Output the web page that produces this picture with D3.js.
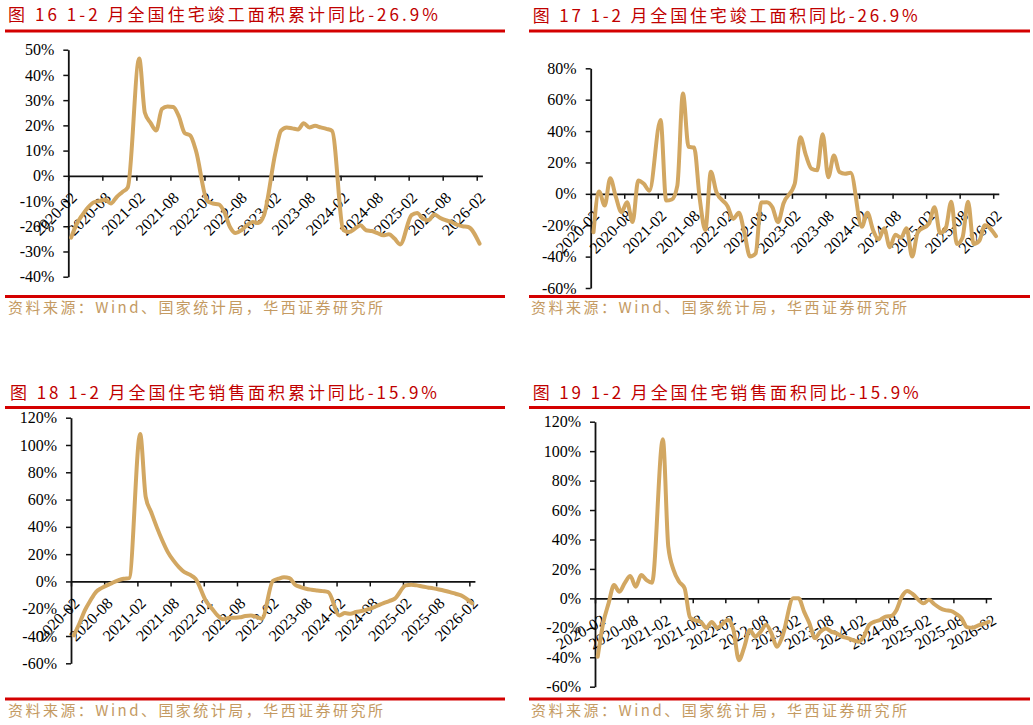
<!DOCTYPE html>
<html><head><meta charset="utf-8">
<script src="https://cdn.jsdelivr.net/npm/d3@7/dist/d3.min.js"></script>
<style>
html,body{margin:0;padding:0;background:#fff;}
svg{display:block;}
</style></head>
<body>
<svg id="c" width="1033" height="725"></svg>
<script>
const months = [
 "2020-02","2020-03","2020-04","2020-05","2020-06","2020-07","2020-08","2020-09","2020-10","2020-11","2020-12",
 "2021-02","2021-03","2021-04","2021-05","2021-06","2021-07","2021-08","2021-09","2021-10","2021-11","2021-12",
 "2022-02","2022-03","2022-04","2022-05","2022-06","2022-07","2022-08","2022-09","2022-10","2022-11","2022-12",
 "2023-02","2023-03","2023-04","2023-05","2023-06","2023-07","2023-08","2023-09","2023-10","2023-11","2023-12",
 "2024-02","2024-03","2024-04","2024-05","2024-06","2024-07","2024-08","2024-09","2024-10","2024-11","2024-12",
 "2025-02","2025-03","2025-04","2025-05","2025-06","2025-07","2025-08","2025-09","2025-10","2025-11","2025-12",
 "2026-02"];
const tickLabels = ["2020-02","2020-08","2021-02","2021-08","2022-02","2022-08","2023-02","2023-08","2024-02","2024-08","2025-02","2025-08","2026-02"];
// 图16 住宅竣工面积累计同比 (%)
const completedCum = [
 -24.5,-19,-15.5,-12.5,-10.5,-10,-9.5,-11,-8.5,-6.5,-4.5,
 46.5,25,21,18,26.5,27.5,27.3,23.5,17,16,10,
 -10,-11,-11.3,-14.3,-20.3,-22.7,-21.6,-19.6,-18.3,-18.7,-15.6,
 9,17.9,19.2,18.8,18.4,20.8,19.2,19.8,19.2,18.6,17.8,
 -21.5,-22.3,-21,-19.6,-21.6,-21.9,-22.7,-23.6,-23.2,-24.9,-27.2,
 -15.6,-14.7,-17,-17.6,-15.3,-16.6,-17.6,-18.3,-19.4,-20,-20.3,
 -26.9];
// 图17 住宅竣工面积当月同比 (%)
const completedMonthly = [
 -24.5,1.5,-7.5,10,-2,-11.7,-5.3,-18,8.5,6.4,2,
 47,-4.3,-3.6,5.3,64,30,29.5,-3,-23,14,1,
 -8,-16,-12,-25,-40,-38,-5.5,-5.3,-8.5,-18,-6,
 6.4,36,24.5,16,15,38,10.5,24.5,13.9,12.8,13.4,
 -21,-12,-23,-29,-22,-34,-26,-28,-22,-40,-24.5,
 -19,-8.5,-25,-22,-5,-32,-28,-5,-32,-30,-20,
 -26.9];
// 图18 住宅销售面积累计同比 (%)
const salesCum = [
 -39.5,-31,-21.2,-14,-7.8,-4.9,-2.9,-1,0.7,2,2.4,
 108,62,50.7,39.8,30,21.5,15.4,10.5,6.8,4.9,2,
 -15,-20,-25,-27.8,-26.8,-26.6,-26.3,-25.4,-25,-26,-27.3,
 0.5,2,3,2.4,-2.4,-4.1,-5.4,-6.1,-6.6,-7.1,-7.8,
 -24.9,-23.2,-23.7,-22.4,-21.7,-20.7,-19.3,-17.6,-15.9,-14.4,-12.7,
 -2.9,-2.4,-2.9,-3.7,-4.4,-5.1,-5.9,-6.8,-7.8,-9,-10.2,
 -15.9];
// 图19 住宅销售面积当月同比 (%)
const salesMonthly = [
 -39.6,-17,-3.4,9,4.5,10.6,15.2,7.9,15.8,12.4,10.6,
 108,35,19,11.3,6.8,-13,-15,-16,-20,-16,-20,
 -14.7,-21.5,-42,-33,-21.5,-26,-22.6,-18,-23.8,-32.8,-26,
 0,0,-9,-17,-27,-22.6,-20.4,-22.6,-23.8,-26,-27,
 -29.4,-26,-18,-15.8,-14.7,-12.4,-12,-8,1.1,5,3,
 -3.4,-1,-4,-6.5,-8,-8.5,-10.5,-13.5,-19.5,-20,-18.5,
 -15.9];
const titles = [
 "图 16 1-2 月全国住宅竣工面积累计同比-26.9%",
 "图 17 1-2 月全国住宅竣工面积同比-26.9%",
 "图 18 1-2 月全国住宅销售面积累计同比-15.9%",
 "图 19 1-2 月全国住宅销售面积同比-15.9%"];
const sourceText = "资料来源：Wind、国家统计局，华西证券研究所";
const series = [completedCum, completedMonthly, salesCum, salesMonthly];

const panels = [
 {tx:8, ty:21, tl:430, rx0:5, rx1:505, rTop:31, rBot:296.5, sx:8, sy:313, sl:375,
  x0:68.3, x1:482.4, yA:49.7, yB:276.7, dom:[-40,50], step:10, ang:-45},
 {tx:532.7, ty:21.5, tl:385, rx0:529, rx1:1030, rTop:31, rBot:296.5, sx:531, sy:313, sl:376,
  x0:590.7, x1:998.8, yA:68.3, yB:288, dom:[-60,80], step:20, ang:-45},
 {tx:10, ty:398.5, tl:427, rx0:5, rx1:505, rTop:407.5, rBot:699, sx:8, sy:716, sl:375,
  x0:71, x1:474.9, yA:417.7, yB:663.3, dom:[-60,120], step:20, ang:-45},
 {tx:532.7, ty:399, tl:386, rx0:529, rx1:1030, rTop:407.5, rBot:699, sx:531, sy:716, sl:376,
  x0:595, x1:991.4, yA:421.7, yB:686.7, dom:[-60,120], step:20, ang:-30}
];

const svg = d3.select("#c");
svg.append("rect").attr("width",1033).attr("height",725).attr("fill","#fff");
const monthIndex = s => { const [y,m] = s.split("-").map(Number); return (y-2020)*12 + (m-2); };
const cjk = "'Noto Sans CJK SC','Noto Sans CJK JP',sans-serif";
const serif = "'Liberation Serif','DejaVu Serif',serif";

panels.forEach((p,k) => {
  const g = svg.append("g");
  g.append("text").attr("x",p.tx).attr("y",p.ty).attr("fill","#c00000")
   .attr("font-family",cjk).attr("font-size",17)
   .attr("textLength",p.tl).attr("lengthAdjust","spacing").text(titles[k]);
  [p.rTop,p.rBot].forEach(yy => g.append("line").attr("x1",p.rx0).attr("x2",p.rx1)
     .attr("y1",yy).attr("y2",yy).attr("stroke","#d40000").attr("stroke-width",3));
  g.append("text").attr("x",p.sx).attr("y",p.sy).attr("fill","#c49a62")
   .attr("font-family",cjk).attr("font-size",15)
   .attr("textLength",p.sl).attr("lengthAdjust","spacing").text(sourceText);

  const x = d3.scaleLinear().domain([0,73]).range([p.x0,p.x1]);
  const y = d3.scaleLinear().domain([p.dom[1],p.dom[0]]).range([p.yA,p.yB]);
  const yTicks = d3.range(p.dom[0], p.dom[1]+0.001, p.step);
  const ya = g.append("g").attr("transform",`translate(${p.x0},0)`)
    .call(d3.axisLeft(y).tickValues(yTicks).tickSize(5).tickSizeOuter(0).tickPadding(9).tickFormat(d=>d+"%"));
  ya.attr("font-size",16).attr("font-family",serif);
  ya.select(".domain").attr("stroke","#111").attr("stroke-width",1.8);
  ya.selectAll(".tick line").attr("stroke","#111").attr("stroke-width",1.5);
  ya.selectAll("text").style("font-family",serif).style("font-size","16px").attr("fill","#000");

  const xTickVals = tickLabels.map(monthIndex);
  const xa = g.append("g").attr("transform",`translate(0,${y(0)})`)
    .call(d3.axisBottom(x).tickValues(xTickVals).tickSize(5).tickSizeOuter(0)
      .tickFormat(d => tickLabels[xTickVals.indexOf(d)]));
  xa.attr("font-size",16).attr("font-family",serif);
  xa.select(".domain").attr("stroke","#111").attr("stroke-width",1.8);
  xa.selectAll(".tick line").attr("stroke","#111").attr("stroke-width",1.5);
  const off = p.ang === -45 ? [9,23] : [11,25];
  xa.selectAll("text").style("font-family",serif).style("font-size","16px").attr("fill","#000")
    .attr("text-anchor","end").attr("x",0).attr("y",0).attr("dy",0)
    .attr("transform",`translate(${off[0]},${off[1]}) rotate(${p.ang})`);

  const pts = months.map((m,i) => [monthIndex(m)+0.5, series[k][i]]);
  const line = d3.line().x(d=>x(d[0])).y(d=>y(d[1])).curve(d3.curveMonotoneX);
  g.append("path").datum(pts).attr("d",line).attr("fill","none")
   .attr("stroke","#d2a762").attr("stroke-width",4)
   .attr("stroke-linejoin","round").attr("stroke-linecap","round");
});
</script>
</body></html>
